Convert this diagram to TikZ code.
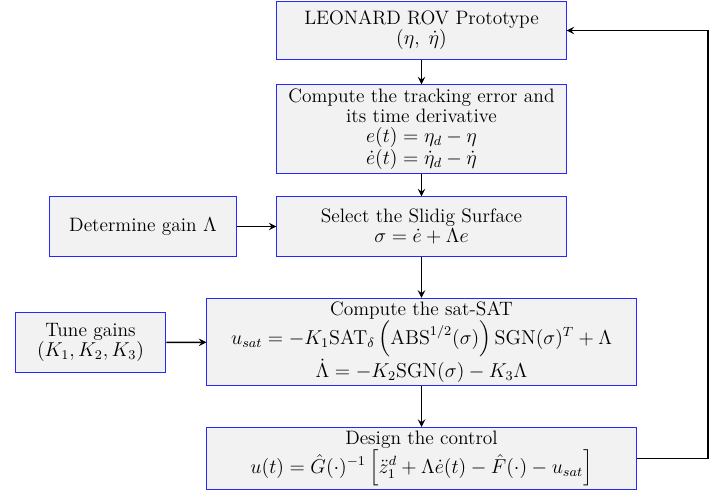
\documentclass[tikz,border=0pt]{standalone}
\usepackage{amsmath}
\begin{document}
\begin{tikzpicture}[x=0.021cm, y=-0.021cm,
  blk/.style={draw=blue!85, semithick, fill=gray!10, align=center, inner sep=2pt,
    font=\fontsize{11.6pt}{11.9pt}\selectfont},
  arr/.style={->, >=stealth, line width=1pt}]
  \useasboundingbox (0,0) rectangle (723,493);
  % main chain of blocks
  \node[blk, minimum width=6.07cm, minimum height=1.20cm] (rov) at (421.5,30.5)
    {LEONARD ROV Prototype\\ $(\eta,\;\dot{\eta})$};
  \node[blk, minimum width=6.07cm, minimum height=1.85cm] (err) at (421.5,129)
    {Compute the tracking error and\\ its time derivative\\
     $e(t) = \eta_d - \eta$\\ $\dot{e}(t) = \dot{\eta}_d - \dot{\eta}$};
  \node[blk, minimum width=6.07cm, minimum height=1.24cm] (surf) at (421.5,226.5)
    {Select the Slidig Surface\\ $\sigma = \dot{e} + \Lambda e$};
  \node[blk, minimum width=9.01cm, minimum height=1.76cm] (sat) at (421.5,342)
    {Compute the sat-SAT\\
     $u_{sat} = -K_1\mathrm{SAT}_\delta\left(\mathrm{ABS}^{1/2}(\sigma)\right)\mathrm{SGN}(\sigma)^T + \Lambda$\\
     $\dot{\Lambda} = -K_2\mathrm{SGN}(\sigma) - K_3\Lambda$};
  \node[blk, minimum width=9.01cm, minimum height=1.28cm] (ctrl) at (421.5,458.5)
    {Design the control\\
     $u(t) = \hat{G}(\cdot)^{-1}\left[\ddot{z}_1^d + \Lambda\dot{e}(t) - \hat{F}(\cdot) - u_{sat}\right]$};
  % side inputs
  \node[blk, minimum width=3.91cm, minimum height=1.24cm] (gainL) at (143,226.5)
    {Determine gain $\Lambda$};
  \node[blk, minimum width=3.17cm, minimum height=1.24cm] (gainK) at (90.5,342.5)
    {Tune gains\\ $(K_1, K_2, K_3)$};
  \coordinate (fb) at (708,30.5);
  % connectors
  \draw[arr] (rov) -- (err);
  \draw[arr] (err) -- (surf);
  \draw[arr] (surf) -- (sat);
  \draw[arr] (sat) -- (ctrl);
  \draw[arr] (gainL) -- (surf);
  \draw[arr] (gainK) -- (sat);
  \draw[arr] (ctrl.east) -| (fb) -- (rov.east);
\end{tikzpicture}
\end{document}
